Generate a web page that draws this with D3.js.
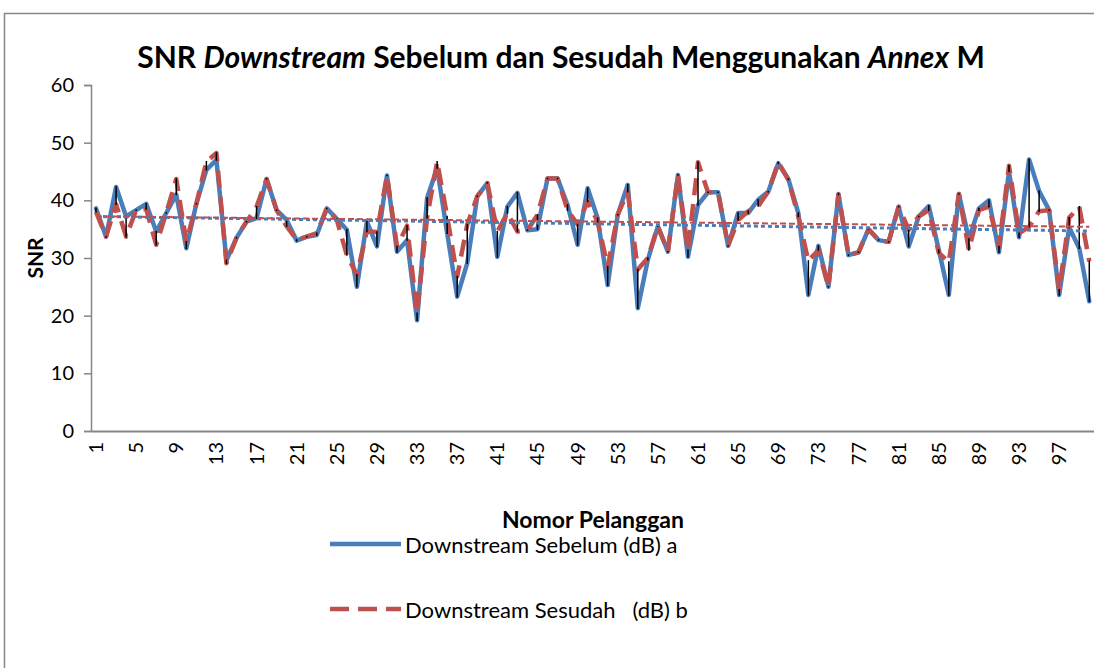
<!DOCTYPE html>
<html>
<head>
<meta charset="utf-8">
<script src="https://cdn.jsdelivr.net/npm/d3@7"></script>
<style>
  html, body { margin: 0; padding: 0; background: #fff; overflow: hidden; width: 1094px; height: 668px; }
  svg { display: block; }
  text { font-family: Lato, "Open Sans", sans-serif; fill: #000; }
</style>
</head>
<body>
<div id="chart"></div>
<script>
// data
var pelanggan = d3.range(1, 101);

var sebelum = [38.6, 33.7, 42.3, 37.2, 38.3, 39.4, 34.6, 37.8, 41.0, 31.7,
  39.4, 45.3, 47.0, 29.6, 33.5, 36.3, 36.9, 43.7, 38.3, 36.6,
  33.0, 33.7, 34.0, 38.6, 36.8, 34.9, 25.0, 36.3, 32.0, 44.3,
  31.1, 33.1, 19.2, 40.4, 45.6, 34.3, 23.3, 29.1, 40.7, 43.0,
  30.2, 38.9, 41.3, 34.8, 35.0, 43.8, 43.8, 39.2, 32.3, 42.1,
  36.9, 25.3, 37.5, 42.7, 21.3, 29.7, 35.5, 31.1, 44.4, 30.2,
  39.2, 41.4, 41.4, 32.1, 37.8, 37.8, 40.1, 41.5, 46.4, 43.7,
  37.8, 23.6, 32.1, 25.0, 41.1, 30.5, 31.0, 35.0, 33.1, 32.8,
  38.9, 32.0, 37.2, 39.0, 31.4, 23.6, 41.1, 33.3, 38.6, 40.0,
  31.0, 45.0, 33.6, 47.1, 41.6, 38.3, 23.6, 35.3, 31.7, 22.5];

var sesudah = [38.0, 33.7, 39.3, 33.7, 38.3, 38.5, 32.3, 37.8, 43.7, 32.8,
  39.4, 46.7, 48.2, 29.1, 33.5, 36.3, 38.9, 43.7, 38.3, 35.5,
  33.1, 33.7, 34.3, 38.6, 36.6, 30.5, 27.1, 34.6, 34.5, 44.3,
  32.0, 35.6, 20.4, 37.0, 46.7, 37.2, 26.8, 35.8, 40.7, 43.0,
  34.6, 37.8, 34.6, 34.8, 37.5, 43.8, 43.8, 38.3, 35.8, 39.8,
  36.3, 28.5, 37.5, 41.5, 28.0, 30.0, 35.5, 31.1, 44.4, 31.4,
  46.6, 41.4, 41.4, 32.1, 36.6, 38.1, 39.0, 41.5, 46.6, 43.6,
  37.2, 29.5, 31.4, 25.0, 41.0, 30.5, 31.0, 35.0, 33.1, 32.8,
  38.9, 34.9, 37.2, 38.3, 30.9, 29.3, 41.1, 31.4, 38.3, 38.9,
  32.0, 46.0, 34.3, 35.4, 38.1, 38.3, 24.5, 37.0, 38.9, 29.4];

var yTicks = [0, 10, 20, 30, 40, 50, 60];
var xTicks = pelanggan.filter(function(d) { return (d - 1) % 4 == 0; });

var seriesNames = ["Downstream Sebelum (dB) a", "Downstream Sesudah   (dB) b"];

// dimensions
var W = 1094, H = 668;
var plot = {left: 91, right: 1094.3, top: 85, bottom: 431};

var svg = d3.select("#chart")
  .append("svg")
    .attr("width", W)
    .attr("height", H);

// chart frame, only left and top edges are inside the picture
svg.append("path")
  .attr("d", "M4.5," + (H + 5) + "V13.5H" + (W + 5))
  .attr("fill", "none")
  .attr("stroke", "#868686")
  .attr("stroke-width", 1.5);

// scales
var x = d3.scaleBand()
  .domain(pelanggan)
  .range([plot.left, plot.right])
  .padding(0);
var cx = function(d) { return x(d) + x.bandwidth() / 2; };

var y = d3.scaleLinear()
  .domain([0, 60])
  .range([plot.bottom, plot.top]);

// y axis
var yAxis = svg.append("g")
  .attr("transform", "translate(" + plot.left + ",0)")
  .call(d3.axisLeft(y).tickValues(yTicks).tickSize(7).tickPadding(10));
yAxis.select(".domain").attr("stroke", "#868686").attr("stroke-width", 1.5);
yAxis.selectAll(".tick line").attr("stroke", "#868686").attr("stroke-width", 1.5);
yAxis.selectAll("text").style("font-size", "20px");

// x axis
var xAxis = svg.append("g")
  .attr("transform", "translate(0," + plot.bottom + ")")
  .call(d3.axisBottom(x).tickValues(xTicks).tickSize(0).tickSizeOuter(0));
xAxis.select(".domain").attr("stroke", "#868686").attr("stroke-width", 2);
xAxis.selectAll("text")
  .style("font-size", "20px")
  .attr("text-anchor", "end")
  .attr("dy", "0.35em")
  .attr("transform", "translate(0,11) rotate(-90)")
  .attr("x", 0).attr("y", 0);

// clip to plot area
svg.append("defs").append("clipPath").attr("id", "clip")
  .append("rect")
    .attr("x", plot.left).attr("y", plot.top - 10)
    .attr("width", plot.right - plot.left).attr("height", plot.bottom - plot.top + 10);

var g = svg.append("g").attr("clip-path", "url(#clip)");

var line = function(vals) {
  return d3.line()
    .x(function(d, i) { return cx(pelanggan[i]); })
    .y(function(d) { return y(d); })(vals);
};

// blue series
g.append("path")
  .attr("d", line(sebelum))
  .attr("fill", "none")
  .attr("stroke", "#4a7ebb")
  .attr("stroke-width", 4.5)
  .attr("stroke-linejoin", "round")
  .attr("stroke-linecap", "round");

// red series
g.append("path")
  .attr("d", line(sesudah))
  .attr("fill", "none")
  .attr("stroke", "#c0504d")
  .attr("stroke-width", 4.5)
  .attr("stroke-dasharray", "17,9")
  .attr("stroke-linejoin", "round");

// high-low lines
g.selectAll(".hl")
  .data(pelanggan)
  .enter().append("line")
    .attr("class", "hl")
    .attr("x1", function(d) { return cx(d); })
    .attr("x2", function(d) { return cx(d); })
    .attr("y1", function(d, i) { return y(Math.max(sebelum[i], sesudah[i])); })
    .attr("y2", function(d, i) { return y(Math.min(sebelum[i], sesudah[i])); })
    .attr("stroke", "#000")
    .attr("stroke-width", 1.5)
    .attr("stroke-linecap", "square");

// linear trendlines
function trend(vals) {
  var n = vals.length;
  var mx = d3.mean(pelanggan), my = d3.mean(vals);
  var sxy = d3.sum(vals, function(v, i) { return (pelanggan[i] - mx) * (v - my); });
  var sxx = d3.sum(pelanggan, function(p) { return (p - mx) * (p - mx); });
  var b = sxy / sxx, a = my - b * mx;
  return [pelanggan[0], pelanggan[n - 1]].map(function(p) { return {p: p, v: a + b * p}; });
}

var tline = d3.line()
  .x(function(d) { return cx(d.p); })
  .y(function(d) { return y(d.v); });

g.append("path")
  .attr("d", tline(trend(sebelum)))
  .attr("fill", "none")
  .attr("stroke", "#4a7ebb")
  .attr("stroke-width", 3)
  .attr("stroke-dasharray", "4,3");

g.append("path")
  .attr("d", tline(trend(sesudah)))
  .attr("fill", "none")
  .attr("stroke", "#c0504d")
  .attr("stroke-width", 2)
  .attr("stroke-dasharray", "6,3");

// title
var title = svg.append("text")
  .attr("x", 561)
  .attr("y", 68)
  .attr("text-anchor", "middle")
  .style("font-size", "30px")
  .style("font-weight", "bold");
title.append("tspan").text("SNR ");
title.append("tspan").style("font-style", "italic").text("Downstream");
title.append("tspan").text(" Sebelum dan Sesudah Menggunakan ");
title.append("tspan").style("font-style", "italic").text("Annex");
title.append("tspan").text(" M");

// axis titles
svg.append("text")
  .attr("transform", "translate(43,258) rotate(-90)")
  .attr("text-anchor", "middle")
  .style("font-size", "21px")
  .style("font-weight", "bold")
  .text("SNR");

svg.append("text")
  .attr("x", 593)
  .attr("y", 528)
  .attr("text-anchor", "middle")
  .style("font-size", "23px")
  .style("font-weight", "bold")
  .text("Nomor Pelanggan");

// legend
var legend = svg.append("g");
var legY = [544, 609];
legend.append("line")
  .attr("x1", 330).attr("x2", 401)
  .attr("y1", legY[0]).attr("y2", legY[0])
  .attr("stroke", "#4a7ebb").attr("stroke-width", 4.5);
legend.append("line")
  .attr("x1", 330).attr("x2", 401)
  .attr("y1", legY[1]).attr("y2", legY[1])
  .attr("stroke", "#c0504d").attr("stroke-width", 4.5)
  .attr("stroke-dasharray", "19,9");
legend.selectAll(".lt")
  .data(seriesNames)
  .enter().append("text")
    .attr("class", "lt")
    .attr("x", 405)
    .attr("y", function(d, i) { return legY[i] + 1; })
    .attr("dy", "0.35em")
    .style("font-size", "22px")
    .style("white-space", "pre")
    .attr("xml:space", "preserve")
    .text(function(d) { return d; });
</script>
</body>
</html>
